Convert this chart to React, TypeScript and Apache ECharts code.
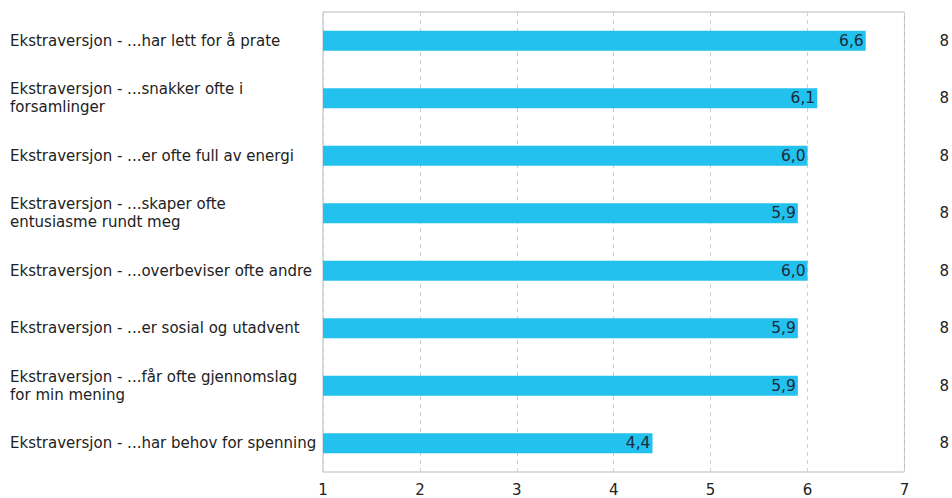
import React, { useEffect, useRef } from "react";
import * as echarts from "echarts";

// Statements about extraversion (two-line labels keep their original wrapping)
const statements = [
  "Ekstraversjon - ...har lett for å prate",
  "Ekstraversjon - ...snakker ofte i\nforsamlinger",
  "Ekstraversjon - ...er ofte full av energi",
  "Ekstraversjon - ...skaper ofte\nentusiasme rundt meg",
  "Ekstraversjon - ...overbeviser ofte andre",
  "Ekstraversjon - ...er sosial og utadvent",
  "Ekstraversjon - ...får ofte gjennomslag\nfor min mening",
  "Ekstraversjon - ...har behov for spenning",
];

// Mean score per statement (scale 1–7)
const meanScores = [6.6, 6.1, 6.0, 5.9, 6.0, 5.9, 5.9, 4.4];

// Number of respondents per statement
const respondents = ["8", "8", "8", "8", "8", "8", "8", "8"];

const FONT = "DejaVu Sans";

export default function App() {
  const ref = useRef<HTMLDivElement>(null);

  useEffect(() => {
    if (!ref.current) return;
    const chart = echarts.init(ref.current, undefined, { renderer: "svg" });
    chart.setOption({
      animation: false,
      backgroundColor: "#ffffff",
      grid: {
        left: 323,
        right: 46,
        top: 12,
        bottom: 26,
        show: true,
        borderColor: "#b9b9b9",
        borderWidth: 1,
      },
      xAxis: {
        type: "value",
        min: 1,
        max: 7,
        interval: 1,
        axisLine: { show: false },
        axisTick: { show: false },
        axisLabel: {
          color: "#222222",
          fontFamily: FONT,
          fontSize: 15,
          margin: 10,
        },
        splitLine: {
          show: true,
          lineStyle: { color: "#d0d0d0", type: [4, 4], width: 1 },
        },
      },
      yAxis: [
        {
          type: "category",
          data: statements,
          inverse: true,
          axisLine: { show: false },
          axisTick: { show: false },
          axisLabel: {
            align: "left",
            margin: 313,
            color: "#222222",
            fontFamily: FONT,
            fontSize: 15,
            lineHeight: 18,
          },
        },
        {
          type: "category",
          data: respondents,
          inverse: true,
          position: "right",
          axisLine: { show: false },
          axisTick: { show: false },
          axisLabel: {
            align: "left",
            margin: 35,
            color: "#222222",
            fontFamily: FONT,
            fontSize: 15,
          },
        },
      ],
      series: [
        {
          type: "bar",
          data: meanScores,
          yAxisIndex: 0,
          barWidth: 20,
          itemStyle: { color: "#22c1ee" },
          label: {
            show: true,
            position: "insideRight",
            distance: 2,
            color: "#1d2b3a",
            fontFamily: FONT,
            fontSize: 15.5,
            formatter: (p: any) => p.value.toFixed(1).replace(".", ","),
          },
        },
      ],
    });
    return () => chart.dispose();
  }, []);

  return (
    <div
      ref={ref}
      style={{ position: "fixed", left: 0, top: 0, width: 952, height: 498 }}
    />
  );
}
